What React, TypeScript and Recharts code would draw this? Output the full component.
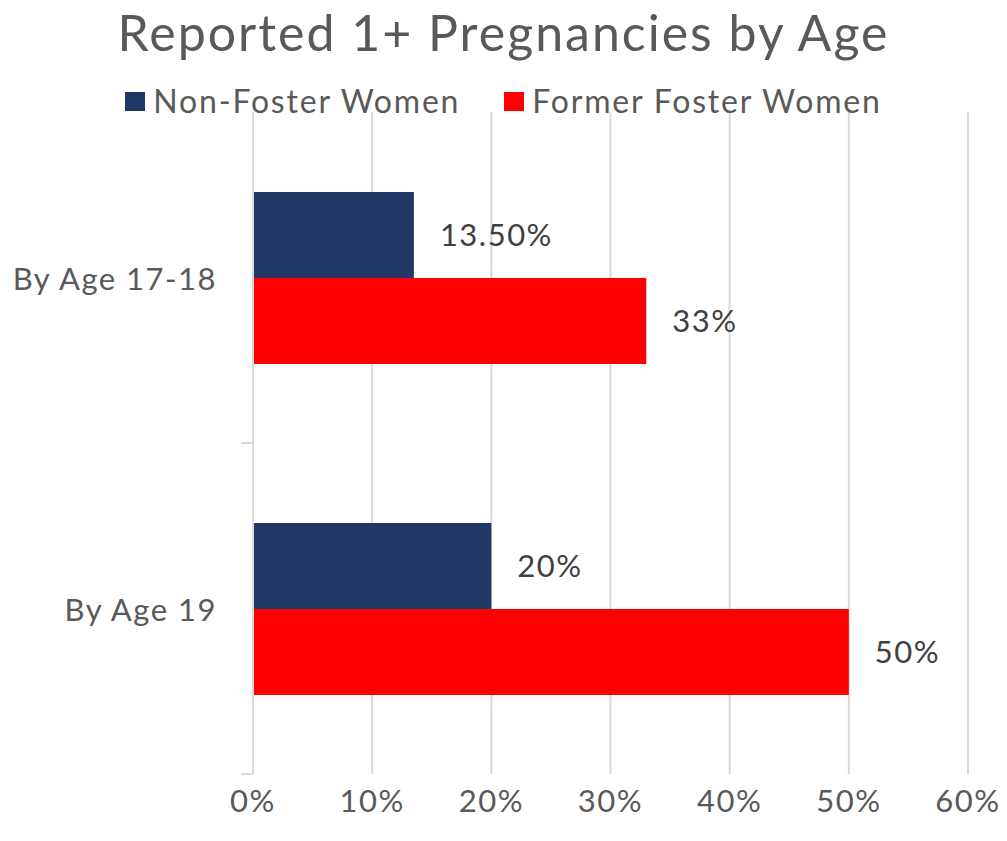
import React from 'react';
import { BarChart, Bar, XAxis, YAxis, CartesianGrid, Legend, LabelList } from 'recharts';

const categories = ['By Age 17-18', 'By Age 19'];
const nonFoster = [13.5, 20];
const formerFoster = [33, 50];
const nonFosterLabels = ['13.50%', '20%'];
const formerFosterLabels = ['33%', '50%'];
const xTicks = [0, 10, 20, 30, 40, 50, 60];
const seriesNames = ['Non-Foster Women', 'Former Foster Women'];
const seriesColors = ['#203864', '#FF0000'];
const title = 'Reported 1+ Pregnancies by Age';

const data = categories.map((c, i) => ({
  category: c,
  nonFoster: nonFoster[i],
  formerFoster: formerFoster[i],
  nfLabel: nonFosterLabels[i],
  ffLabel: formerFosterLabels[i],
}));

const FONT = 'Lato, "Open Sans", sans-serif';
const GRID = '#d9d9d9';
const TEXT = '#595959';
const LS = 1.5;

const YTick = (props: any) => {
  const { x, y, payload } = props;
  const half = payload && typeof payload.offset === 'number' && payload.offset > 0 ? payload.offset : 165.5;
  const axisX = x + 36;
  return (
    <g>
      <text
        x={x}
        y={y}
        textAnchor="end"
        dominantBaseline="central"
        fill={TEXT}
        fontSize={31}
        fontFamily={FONT}
        letterSpacing={LS}
      >
        {payload.value}
      </text>
      <line x1={axisX - 12} x2={axisX} y1={y + half} y2={y + half} stroke={GRID} strokeWidth={2} />
    </g>
  );
};

const LegendContent = (props: any) => {
  const raw = props.payload || [];
  const payload = [...raw].sort(
    (a: any, b: any) => seriesNames.indexOf(a.value) - seriesNames.indexOf(b.value)
  );
  return (
    <div style={{ display: 'flex', justifyContent: 'center', alignItems: 'center', fontFamily: FONT }}>
      {payload.map((p: any, i: number) => (
        <div key={i} style={{ display: 'flex', alignItems: 'center', marginLeft: i === 0 ? 0 : 44 }}>
          <div style={{ width: 20, height: 19, background: p.color, marginRight: 8 }} />
          <span style={{ fontSize: 32, color: TEXT, lineHeight: '36px', letterSpacing: 1.8 }}>{p.value}</span>
        </div>
      ))}
    </div>
  );
};

export default function App() {
  return (
    <div style={{ position: 'absolute', left: 0, top: 0, width: 1007, height: 841, background: '#fff', fontFamily: FONT }}>
      <div
        style={{
          position: 'absolute',
          left: 0,
          top: 2,
          width: 1007,
          textAlign: 'center',
          fontSize: 50,
          letterSpacing: 2,
          color: TEXT,
          lineHeight: '60px',
          fontFamily: FONT,
        }}
      >
        {title}
      </div>
      <BarChart
        width={1007}
        height={841}
        data={data}
        layout="vertical"
        margin={{ top: 112, right: 39, bottom: 0, left: 0 }}
        barGap={0}
      >
        <CartesianGrid horizontal={false} stroke={GRID} strokeWidth={2} />
        <XAxis
          type="number"
          domain={[0, 60]}
          ticks={xTicks}
          tickFormatter={(v: number) => `${v}%`}
          axisLine={false}
          tickLine={false}
          tickSize={0}
          tickMargin={16}
          height={67}
          tick={{ fill: TEXT, fontSize: 31, fontFamily: FONT, letterSpacing: LS }}
          interval={0}
        />
        <YAxis
          type="category"
          dataKey="category"
          width={253}
          axisLine={{ stroke: GRID, strokeWidth: 2 }}
          tickLine={false}
          tickSize={0}
          tickMargin={36}
          tick={<YTick />}
          interval={0}
        />
        <Legend
          layout="horizontal"
          verticalAlign="middle"
          align="center"
          content={<LegendContent />}
          wrapperStyle={{ top: 83, left: 0, width: 1007 }}
        />
        <Bar dataKey="nonFoster" name={seriesNames[0]} fill={seriesColors[0]} barSize={86} isAnimationActive={false}>
          <LabelList
            dataKey="nfLabel"
            position="right"
            offset={26}
            fill="#404040"
            fontSize={31}
            fontFamily={FONT}
            letterSpacing={LS}
          />
        </Bar>
        <Bar dataKey="formerFoster" name={seriesNames[1]} fill={seriesColors[1]} barSize={86} isAnimationActive={false}>
          <LabelList
            dataKey="ffLabel"
            position="right"
            offset={26}
            fill="#404040"
            fontSize={31}
            fontFamily={FONT}
            letterSpacing={LS}
          />
        </Bar>
      </BarChart>
    </div>
  );
}
